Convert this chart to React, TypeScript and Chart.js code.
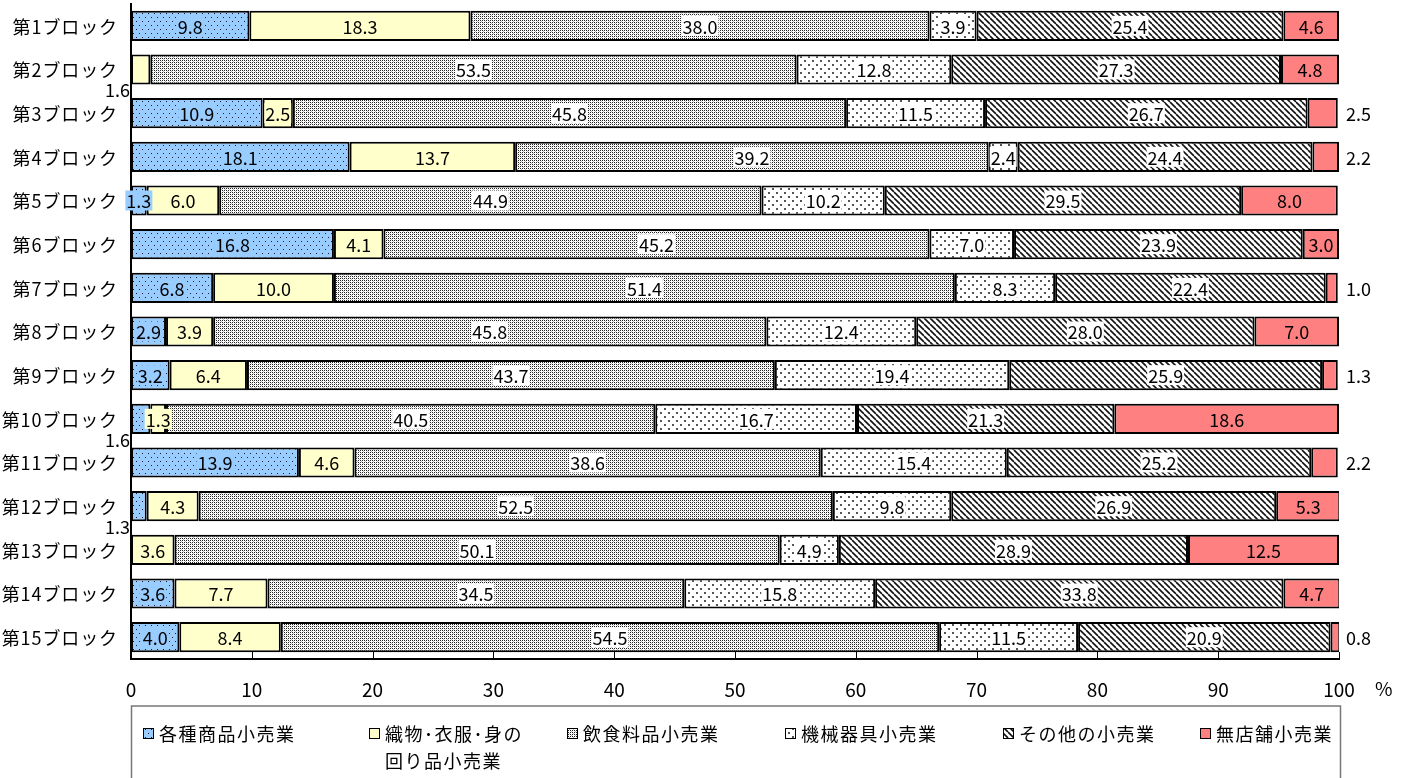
import React, { useEffect, useRef } from 'react';
import { Chart, registerables } from 'chart.js';

Chart.register(...registerables);

const categories = [
  '第1ブロック', '第2ブロック', '第3ブロック', '第4ブロック', '第5ブロック',
  '第6ブロック', '第7ブロック', '第8ブロック', '第9ブロック', '第10ブロック',
  '第11ブロック', '第12ブロック', '第13ブロック', '第14ブロック', '第15ブロック',
];

const seriesNames = ['各種商品小売業', '織物・衣服・身の回り品小売業', '飲食料品小売業', '機械器具小売業', 'その他の小売業', '無店舗小売業'];
const legendLines = [['各種商品小売業'], ['織物･衣服･身の', '回り品小売業'], ['飲食料品小売業'], ['機械器具小売業'], ['その他の小売業'], ['無店舗小売業']];

const general = [9.8, 0, 10.9, 18.1, 1.3, 16.8, 6.8, 2.9, 3.2, 1.6, 13.9, 1.3, 0, 3.6, 4.0];
const textile = [18.3, 1.6, 2.5, 13.7, 6.0, 4.1, 10.0, 3.9, 6.4, 1.3, 4.6, 4.3, 3.6, 7.7, 8.4];
const food = [38.0, 53.5, 45.8, 39.2, 44.9, 45.2, 51.4, 45.8, 43.7, 40.5, 38.6, 52.5, 50.1, 34.5, 54.5];
const machinery = [3.9, 12.8, 11.5, 2.4, 10.2, 7.0, 8.3, 12.4, 19.4, 16.7, 15.4, 9.8, 4.9, 15.8, 11.5];
const other = [25.4, 27.3, 26.7, 24.4, 29.5, 23.9, 22.4, 28.0, 25.9, 21.3, 25.2, 26.9, 28.9, 33.8, 20.9];
const nonstore = [4.6, 4.8, 2.5, 2.2, 8.0, 3.0, 1.0, 7.0, 1.3, 18.6, 2.2, 5.3, 12.5, 4.7, 0.8];

const xTickValues = [0, 10, 20, 30, 40, 50, 60, 70, 80, 90, 100];

// label placement exceptions: [datasetIndex, rowIndex, where]
const labelOutside: [number, number, string][] = [
  [1, 1, 'below'], [0, 9, 'below'], [0, 11, 'below'],
  [5, 2, 'right'], [5, 3, 'right'], [5, 6, 'right'], [5, 8, 'right'], [5, 10, 'right'], [5, 14, 'right'],
];

const baseColors = ['#99CCFF', '#FFFFCC', '#FFFFFF', '#FFFFFF', '#FFFFFF', '#FF8080'];
const legendMarkerX = [17, 243, 441, 659, 877, 1074];

const FONT = '"Noto Sans CJK JP", "Noto Sans", sans-serif';

function makePattern(w: number, h: number, bg: string, draw: (c: CanvasRenderingContext2D) => void): CanvasPattern | string {
  const c = document.createElement('canvas');
  c.width = w;
  c.height = h;
  const p = c.getContext('2d');
  if (!p) return bg;
  p.fillStyle = bg;
  p.fillRect(0, 0, w, h);
  draw(p);
  const pat = p.createPattern(c, 'repeat');
  return pat || bg;
}

function buildFills(): (CanvasPattern | string)[] {
  const blue = makePattern(6, 8, '#99CCFF', (p) => {
    p.fillStyle = '#1a1a33';
    p.fillRect(1, 1, 1, 1);
    p.fillRect(4, 5, 1, 1);
  });
  const yellow = '#FFFFCC';
  const grey = makePattern(4, 4, '#FFFFFF', (p) => {
    p.fillStyle = '#222';
    p.fillRect(0, 0, 1, 1);
    p.fillRect(2, 0, 1, 1);
    p.fillRect(0, 2, 1, 1);
    p.fillRect(2, 2, 1, 1);
    p.fillStyle = '#bbb';
    p.fillRect(1, 1, 1, 1);
    p.fillRect(3, 3, 1, 1);
  });
  const sparse = makePattern(8, 8, '#FFFFFF', (p) => {
    p.fillStyle = '#555';
    p.fillRect(0, 0, 2, 2);
    p.fillRect(4, 4, 2, 2);
  });
  const hatch = makePattern(6, 6, '#FFFFFF', (p) => {
    p.strokeStyle = '#111';
    p.lineWidth = 1.6;
    for (const o of [-6, 0, 6]) {
      p.beginPath();
      p.moveTo(o, 0);
      p.lineTo(o + 6, 6);
      p.stroke();
    }
  });
  return [blue, yellow, grey, sparse, hatch, '#FF8080'];
}

function makeExtrasPlugin(fills: (CanvasPattern | string)[]) {
  return {
    id: 'extras',
    afterDatasetsDraw(chart: any) {
      const ctx: CanvasRenderingContext2D = chart.ctx;
      const area = chart.chartArea;
      ctx.save();
      ctx.font = '18px ' + FONT;
      ctx.textBaseline = 'middle';
      chart.data.datasets.forEach((ds: any, di: number) => {
        const meta = chart.getDatasetMeta(di);
        meta.data.forEach((el: any, i: number) => {
          const v = ds.data[i];
          if (!v) return;
          const { x, y, base } = el.getProps(['x', 'y', 'base'], true);
          const txt = v.toFixed(1);
          const ex = labelOutside.find((e) => e[0] === di && e[1] === i);
          const w = ctx.measureText(txt).width;
          ctx.fillStyle = '#000';
          if (ex && ex[2] === 'right') {
            ctx.textAlign = 'left';
            ctx.fillText(txt, area.right + 7, y + 1);
          } else if (ex && ex[2] === 'below') {
            ctx.textAlign = 'right';
            ctx.fillText(txt, area.left - 1, y + 21);
          } else {
            const cx = (x + base) / 2;
            ctx.fillStyle = baseColors[di];
            ctx.fillRect(cx - w / 2 - 1, y - 10, w + 2, 20);
            ctx.fillStyle = '#000';
            ctx.textAlign = 'center';
            ctx.fillText(txt, cx, y + 1);
          }
        });
      });
      ctx.restore();
    },
    afterDraw(chart: any) {
      const ctx: CanvasRenderingContext2D = chart.ctx;
      const area = chart.chartArea;
      const xs = chart.scales.x;
      const ys = chart.scales.y;
      ctx.save();
      // inward tick marks
      ctx.strokeStyle = '#000';
      ctx.lineWidth = 1;
      xTickValues.forEach((t) => {
        const px = Math.round(xs.getPixelForValue(t)) + 0.5;
        ctx.beginPath();
        ctx.moveTo(px, area.bottom);
        ctx.lineTo(px, area.bottom - 7);
        ctx.stroke();
      });
      // x tick labels
      ctx.fillStyle = '#000';
      ctx.font = '19px ' + FONT;
      ctx.textAlign = 'center';
      ctx.textBaseline = 'middle';
      xTickValues.forEach((t) => {
        ctx.fillText(String(t), xs.getPixelForValue(t), area.bottom + 31);
      });
      ctx.textAlign = 'left';
      ctx.fillText('%', area.right + 36, area.bottom + 30);
      // y category labels
      ctx.font = '18px ' + FONT;
      (ctx as any).letterSpacing = '0.9px';
      ctx.textAlign = 'right';
      categories.forEach((c, i) => {
        ctx.fillText(c, area.left - 13, ys.getPixelForValue(i) + 1);
      });
      // legend
      const top = area.bottom + 47;
      ctx.strokeStyle = '#777';
      ctx.lineWidth = 1.5;
      ctx.strokeRect(area.left + 0.5, top, area.right - area.left + 1, 120);
      ctx.font = '18px ' + FONT;
      (ctx as any).letterSpacing = '1.5px';
      ctx.textAlign = 'left';
      legendLines.forEach((lines, k) => {
        const mx = area.left + legendMarkerX[k];
        const my = top + 27;
        ctx.fillStyle = fills[k];
        ctx.fillRect(mx - 5, my - 5, 10, 10);
        ctx.strokeStyle = '#000';
        ctx.lineWidth = 1;
        ctx.strokeRect(mx - 5 + 0.5, my - 5 + 0.5, 10, 10);
        ctx.fillStyle = '#000';
        lines.forEach((ln, j) => {
          ctx.fillText(ln, mx + 11, my + 1 + j * 27);
        });
      });
      (ctx as any).letterSpacing = '0px';
      ctx.restore();
    },
  };
}

export default function App() {
  const ref = useRef<HTMLCanvasElement | null>(null);

  useEffect(() => {
    if (!ref.current) return;
    const fills = buildFills();
    const seriesData = [general, textile, food, machinery, other, nonstore];
    const chart: any = new Chart(ref.current, {
      type: 'bar',
      data: {
        labels: categories,
        datasets: seriesData.map((d, k) => ({
          label: seriesNames[k],
          data: d,
          backgroundColor: fills[k] as any,
          borderColor: '#000',
          borderWidth: 2,
          borderSkipped: false,
          barPercentage: 0.69,
          categoryPercentage: 1,
        })),
      },
      options: {
        indexAxis: 'y',
        responsive: false,
        animation: false,
        layout: { padding: { left: 0, right: 70, top: 4, bottom: 84 } },
        plugins: {
          legend: { display: false },
          tooltip: { enabled: false },
        },
        scales: {
          x: {
            stacked: true,
            min: 0,
            max: 100,
            ticks: { display: false },
            grid: { display: false, drawTicks: false },
            border: { display: true, color: '#000', width: 2 },
            afterFit: (s: any) => {
              s.height = 35;
            },
          },
          y: {
            stacked: true,
            ticks: { display: false },
            grid: { display: false, drawTicks: false },
            border: { display: true, color: '#000', width: 2 },
            afterFit: (s: any) => {
              s.width = 131;
            },
          },
        },
      },
      plugins: [makeExtrasPlugin(fills)],
    });
    return () => chart.destroy();
  }, []);

  return (
    <div style={{ position: 'absolute', left: 0, top: 0, width: 1409, height: 778, background: '#fff' }}>
      <canvas ref={ref} width={1409} height={778} />
    </div>
  );
}
